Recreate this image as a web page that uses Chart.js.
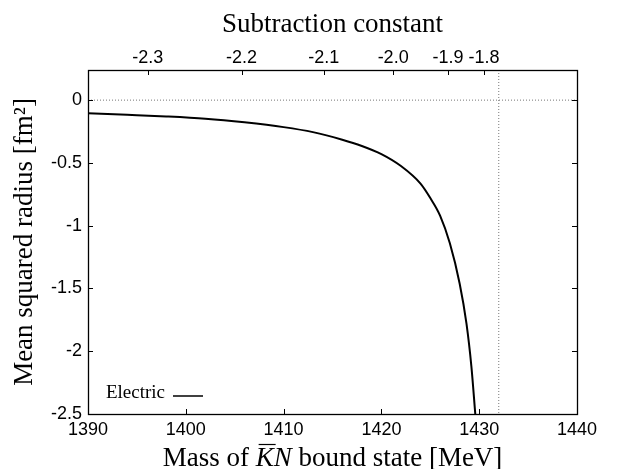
<!DOCTYPE html>
<html><head><meta charset="utf-8">
<script src="https://cdn.jsdelivr.net/npm/chart.js@4/dist/chart.umd.min.js"></script>
<style>html,body{margin:0;padding:0;background:#fff}</style>
</head><body>
<canvas id="c" width="617" height="469"></canvas>
<script>
// ---- data ----
const massValues   = [1390, 1394, 1398, 1402, 1406, 1410, 1413, 1416, 1418, 1420, 1422, 1424, 1425, 1426, 1427, 1428, 1428.7, 1429.2, 1429.6];
const radiusValues = [-0.105, -0.117, -0.130, -0.148, -0.177, -0.215, -0.255, -0.315, -0.365, -0.43, -0.525, -0.665, -0.78, -0.92, -1.14, -1.46, -1.78, -2.12, -2.5];
const seriesLabel  = 'Electric';
const massTicks    = [1390, 1400, 1410, 1420, 1430, 1440];
const radiusTicks  = [0, -0.5, -1, -1.5, -2, -2.5];
const subConstLabels = ['-2.3', '-2.2', '-2.1', '-2.0', '-1.9', '-1.8'];
const subConstMass   = [1396.1, 1405.7, 1414.1, 1421.2, 1426.8, 1430.5];
const thresholdMass  = 1432;
const xMin = 1390, xMax = 1440, yMin = -2.5, yMax = 0.24;

const SANS = '"Liberation Sans", Arial, sans-serif';
const SERIF = '"Liberation Serif", "Times New Roman", serif';

const frame = {
  id: 'frame',
  afterDatasetsDraw(chart) {
    const {ctx, chartArea: a, scales} = chart;
    const L = 5;
    ctx.save();
    ctx.strokeStyle = '#000';
    ctx.lineWidth = 1;
    ctx.beginPath();
    scales.x.ticks.forEach(t => {
      const p = Math.round(scales.x.getPixelForValue(t.value)) + 0.5;
      ctx.moveTo(p, a.bottom); ctx.lineTo(p, a.bottom - L);
    });
    scales.x2.ticks.forEach(t => {
      const p = Math.round(scales.x2.getPixelForValue(t.value)) + 0.5;
      ctx.moveTo(p, a.top); ctx.lineTo(p, a.top + L);
    });
    scales.y.ticks.forEach(t => {
      const p = Math.round(scales.y.getPixelForValue(t.value)) + 0.5;
      ctx.moveTo(a.left, p); ctx.lineTo(a.left + L, p);
      ctx.moveTo(a.right, p); ctx.lineTo(a.right - L, p);
    });
    ctx.stroke();
    ctx.lineWidth = 1.3;
    ctx.strokeRect(Math.round(a.left) + 0.5, Math.round(a.top) + 0.5,
                   Math.round(a.right - a.left), Math.round(a.bottom - a.top));
    ctx.restore();
  }
};

const legendInside = {
  id: 'legendInside',
  afterDatasetsDraw(chart) {
    const {ctx, chartArea: a} = chart;
    const ds = chart.data.datasets[0];
    ctx.save();
    ctx.font = '19px ' + SERIF;
    ctx.fillStyle = '#000';
    ctx.textAlign = 'right';
    ctx.textBaseline = 'alphabetic';
    const tx = a.left + 77, ty = a.bottom - 16;
    ctx.fillText(ds.label, tx, ty);
    ctx.strokeStyle = ds.borderColor;
    ctx.lineWidth = 1.5;
    ctx.beginPath();
    ctx.moveTo(tx + 8, ty - 2);
    ctx.lineTo(tx + 38, ty - 2);
    ctx.stroke();
    ctx.restore();
  }
};

const bottomTitle = {
  id: 'bottomTitle',
  afterDraw(chart) {
    const {ctx, chartArea: a} = chart;
    const parts = [
      {t: 'Mass of ', f: '27px ' + SERIF},
      {t: 'K', f: 'italic 27px ' + SERIF, bar: true},
      {t: 'N', f: 'italic 27px ' + SERIF},
      {t: ' bound state [MeV]', f: '27px ' + SERIF}
    ];
    ctx.save();
    ctx.fillStyle = '#000';
    ctx.textBaseline = 'alphabetic';
    ctx.textAlign = 'left';
    let total = 0;
    parts.forEach(p => { ctx.font = p.f; p.w = ctx.measureText(p.t).width; total += p.w; });
    let x = (a.left + a.right) / 2 - total / 2;
    const y = 466;
    parts.forEach(p => {
      ctx.font = p.f;
      ctx.fillText(p.t, x, y);
      if (p.bar) {
        ctx.strokeStyle = '#000';
        ctx.lineWidth = 1.2;
        ctx.beginPath();
        ctx.moveTo(x + 3, y - 21.5);
        ctx.lineTo(x + p.w + 2, y - 21.5);
        ctx.stroke();
      }
      x += p.w;
    });
    ctx.restore();
  }
};

new Chart(document.getElementById('c'), {
  type: 'line',
  data: {
    datasets: [
      {
        label: seriesLabel,
        data: massValues.map((m, i) => ({x: m, y: radiusValues[i]})),
        borderColor: '#000',
        borderWidth: 2,
        pointRadius: 0,
        cubicInterpolationMode: 'monotone',
        fill: false
      },
      {
        label: 'zero',
        data: [{x: xMin, y: 0}, {x: xMax, y: 0}],
        borderColor: '#777',
        borderWidth: 1,
        borderDash: [1, 2],
        pointRadius: 0
      },
      {
        label: 'threshold',
        data: [{x: thresholdMass, y: yMax}, {x: thresholdMass, y: yMin}],
        borderColor: '#777',
        borderWidth: 1,
        borderDash: [1, 2],
        pointRadius: 0
      }
    ]
  },
  options: {
    responsive: false,
    animation: false,
    events: [],
    layout: {padding: {left: 0, right: 40, top: 0, bottom: 0}},
    plugins: {legend: {display: false}, tooltip: {enabled: false}},
    scales: {
      x: {
        type: 'linear', position: 'bottom', min: xMin, max: xMax,
        afterBuildTicks: s => { s.ticks = massTicks.map(v => ({value: v})); },
        afterFit: s => { s.height = 55; },
        grid: {display: false, drawTicks: false},
        border: {display: false},
        ticks: {
          autoSkip: false, maxRotation: 0, minRotation: 0, padding: 5,
          color: '#000', font: {family: SANS, size: 18},
          callback: v => String(v)
        }
      },
      x2: {
        type: 'linear', position: 'top', min: xMin, max: xMax,
        afterBuildTicks: s => { s.ticks = subConstMass.map(v => ({value: v})); },
        afterFit: s => { s.height = 70; },
        grid: {display: false, drawTicks: false},
        border: {display: false},
        ticks: {
          autoSkip: false, maxRotation: 0, minRotation: 0, padding: 1,
          color: '#000', font: {family: SANS, size: 18},
          callback: (v, i) => subConstLabels[i]
        },
        title: {
          display: true, text: 'Subtraction constant', color: '#000',
          font: {family: SERIF, size: 27}, padding: {top: 9, bottom: 0}
        }
      },
      y: {
        type: 'linear', position: 'left', min: yMin, max: yMax,
        afterBuildTicks: s => { s.ticks = radiusTicks.map(v => ({value: v})); },
        afterFit: s => { s.width = 88; },
        grid: {display: false, drawTicks: false},
        border: {display: false},
        ticks: {
          autoSkip: false, padding: 6,
          color: '#000', font: {family: SANS, size: 18},
          callback: v => String(v)
        },
        title: {
          display: true, text: 'Mean squared radius [fm\u00B2]', color: '#000',
          font: {family: SERIF, size: 27}, padding: {top: 9, bottom: 0}
        }
      }
    }
  },
  plugins: [frame, legendInside, bottomTitle]
});
</script>
</body></html>
